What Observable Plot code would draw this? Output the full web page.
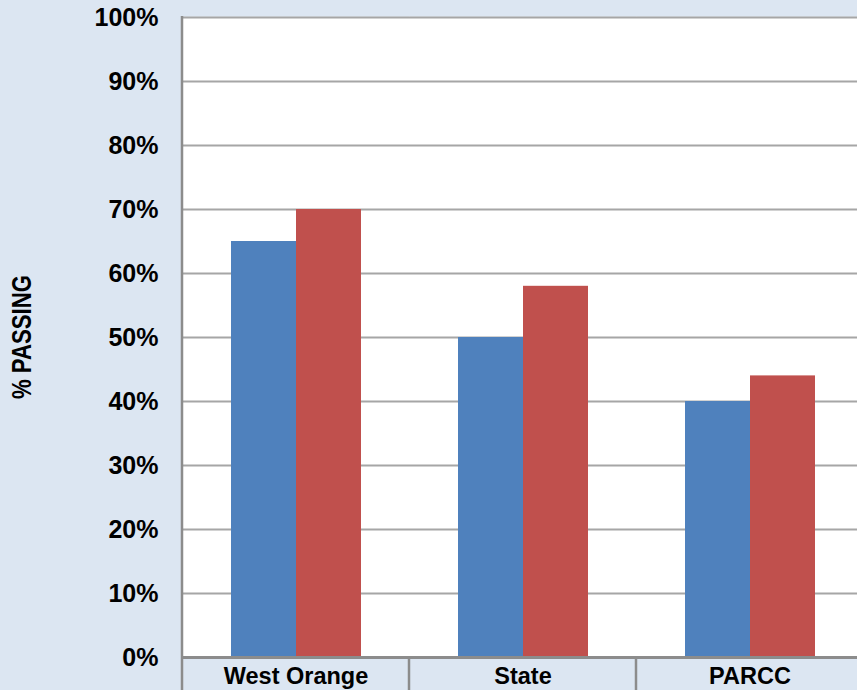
<!DOCTYPE html>
<html>
<head>
<meta charset="utf-8">
<script src="https://cdn.jsdelivr.net/npm/d3@7"></script>
<script src="https://cdn.jsdelivr.net/npm/@observablehq/plot@0.6"></script>
<style>
  html, body { margin: 0; padding: 0; background: #dce6f2; overflow: hidden; }
  #chart { width: 857px; height: 690px; overflow: hidden; }
  #chart svg { max-width: none !important; }
</style>
</head>
<body>
<div id="chart"></div>
<script>
const categories = ["West Orange", "State", "PARCC"];
const seriesNames = ["Series 1", "Series 2"];
const series1Values = [65, 50, 40];
const series2Values = [70, 58, 44];
const yTicks = [0, 10, 20, 30, 40, 50, 60, 70, 80, 90, 100];
const yTitle = "% PASSING";

const data = [];
categories.forEach((c, i) => {
  data.push({cat: c, series: seriesNames[0], value: series1Values[i]});
  data.push({cat: c, series: seriesNames[1], value: series2Values[i]});
});

const plot = Plot.plot({
  width: 863,
  height: 690,
  marginLeft: 182,
  marginRight: 0,
  marginTop: 17,
  marginBottom: 33,
  style: {background: "transparent", fontFamily: "Liberation Sans, Arial, sans-serif", fontSize: "23px", fontWeight: "bold", color: "#000", maxWidth: "none"},
  fx: {domain: categories, padding: 0, label: null, axis: null},
  x: {domain: seriesNames, paddingInner: 0, paddingOuter: 0.746, axis: null},
  y: {domain: [0, 100], axis: null},
  color: {domain: seriesNames, range: ["#4f81bd", "#c0504d"]},
  marks: [
    Plot.frame({fill: "white", stroke: "white", strokeWidth: 1.5}),
    Plot.ruleY(yTicks.filter(t => t > 0), {stroke: "#a6a6a6", strokeWidth: 2}),
    Plot.barY(data, {fx: "cat", x: "series", y: "value", fill: "series"}),
    Plot.ruleY([0], {stroke: "#8c8c8c", strokeWidth: 3}),
    Plot.axisY({ticks: yTicks, tickFormat: d => d + "%", tickSize: 0, tickPadding: 24, label: null, fontSize: 25}),
    Plot.axisFx({anchor: "bottom", tickSize: 0, tickPadding: 10, label: null, fontSize: 23.5})
  ]
});

document.getElementById("chart").appendChild(plot);

// category box separators and left axis line, placed through the plot's own scales
const svg = d3.select(plot);
const fx = plot.scale("fx");
const y = plot.scale("y");
const yTop = y.apply(100);
const yBase = y.apply(0);
const H = 690;
const g = svg.append("g");
categories.forEach((c, i) => {
  const x = fx.apply(c);
  g.append("line")
    .attr("x1", x).attr("x2", x)
    .attr("y1", i === 0 ? yTop - 1 : yBase).attr("y2", H)
    .attr("stroke", "#8c8c8c").attr("stroke-width", 2.5);
});
svg.append("text")
  .attr("transform", `translate(22,${(yTop + yBase) / 2}) rotate(-90)`)
  .attr("text-anchor", "middle")
  .attr("dominant-baseline", "central")
  .attr("font-size", 27)
  .attr("font-weight", "bold")
  .attr("textLength", 124)
  .attr("lengthAdjust", "spacingAndGlyphs")
  .attr("fill", "#000")
  .text(yTitle);
</script>
</body>
</html>
